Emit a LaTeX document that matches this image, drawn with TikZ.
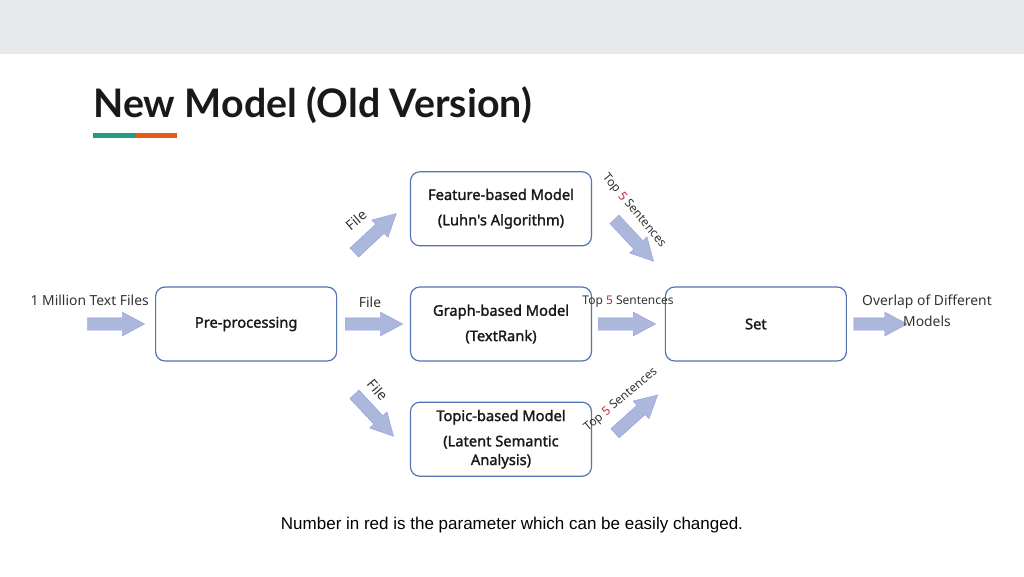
\documentclass[tikz,border=0pt]{standalone}
\usepackage{fontspec}
\setmainfont{Noto Sans}
\newfontfamily\titlefont{Lato}
\newfontfamily\boxfont[FakeBold=1.6]{Noto Sans}
\newfontfamily\capfont{Liberation Sans}
\usetikzlibrary{positioning,shapes.arrows}
\definecolor{boxline}{RGB}{84,116,178}
\definecolor{arrowfill}{RGB}{172,183,220}
\definecolor{topband}{RGB}{232,233,234}
\definecolor{teal}{RGB}{32,156,132}
\definecolor{rust}{RGB}{230,92,20}
\definecolor{paramred}{RGB}{192,40,50}
\newcommand{\topk}{Top {\color{paramred}5} Sentences}

\begin{document}
\begin{tikzpicture}[x=0.75pt,y=-0.75pt,node distance=30pt and 54.5pt,
    box/.style={rectangle,draw=boxline,line width=0.9pt,rounded corners=7pt,
      align=center,font=\boxfont\fontsize{11}{19}\selectfont,text=black!90,
      minimum width=135.75pt,minimum height=55.5pt},
    fat/.style={single arrow,fill=arrowfill,draw=arrowfill!85!blue,
      line width=0.3pt,inner xsep=0pt,inner ysep=4.5pt,
      single arrow head extend=4.25pt,single arrow tip angle=56,
      minimum height=43pt},
    lbl/.style={font=\fontsize{10.4}{15.75}\selectfont,text=black!80},
    slbl/.style={font=\fontsize{9}{10}\selectfont,text=black!80}]
% page, band and title
\fill[white] (0,0) rectangle (1024,576);
\fill[topband] (0,0) rectangle (1024,54);
\useasboundingbox (0,0) rectangle (1024,576);
\node[anchor=base west,inner sep=0,text=black!90,
  font=\titlefont\bfseries\fontsize{29.5}{34}\selectfont] (title) at (93,117)
  {New Model (Old Version)};
\fill[teal] (93,133) rectangle (135,138);
\fill[rust] (135,133) rectangle (177,138);

% boxes
\node[box] (graph) at (501,324) {Graph-based Model\\(TextRank)};
\node[box,above=of graph] (feat) {Feature-based Model\\(Luhn's Algorithm)};
\node[box,below=of graph] (topic) {Topic-based Model\\(Latent Semantic\\[-5pt]Analysis)};
\node[box,left=of graph] (pre) {Pre-processing};
\node[box,right=of graph] (set) {Set};

% block arrows
\node[fat,left=7.5pt of pre] (a-in) {};
\node[fat,right=6pt of pre] (a-file) {};
\node[fat,right=4.5pt of graph] (a-top) {};
\node[fat,right=5pt of set,minimum height=40pt] (a-out) {};
\node[fat,rotate=43] (a-feat) at (371,237) {};
\node[fat,rotate=-47] (a-featout) at (630,236) {};
\node[fat,rotate=-47] (a-topic) at (370,411) {};
\node[fat,rotate=42] (a-topicout) at (632,418) {};

% labels
\node[lbl,anchor=west] (l-in) at (26,300) {1 Million Text Files};
\node[lbl] (l-file) at (370,302) {File};
\node[slbl] (l-top) at (628,302) {\topk};
\node[lbl,align=center] (l-out) at (927,311) {Overlap of Different\\Models};
\node[lbl,rotate=40] (l-feat) at (356,220) {File};
\node[slbl,rotate=-50] (l-featout) at (634,211) {\topk};
\node[lbl,rotate=-50] (l-topic) at (378,390) {File};
\node[slbl,rotate=40] (l-topicout) at (621,400) {\topk};

\node[font=\capfont\fontsize{12.75}{15}\selectfont] (note) at (512,525)
  {Number in red is the parameter which can be easily changed.};
\end{tikzpicture}
\end{document}
